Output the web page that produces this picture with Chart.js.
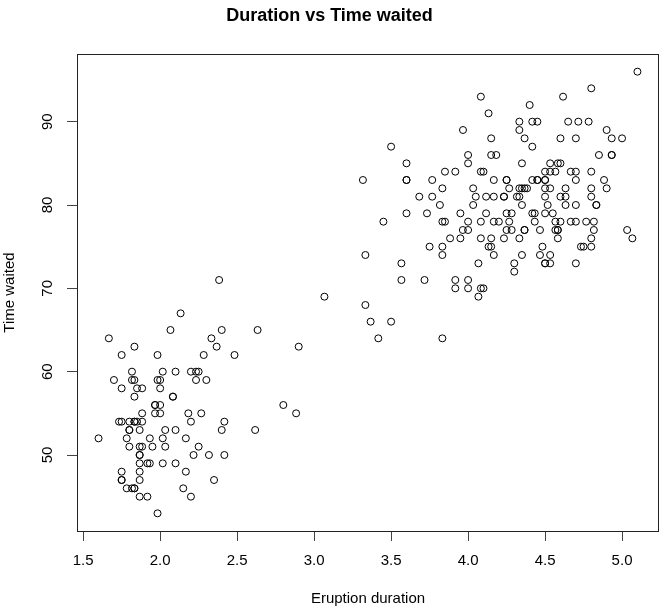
<!DOCTYPE html>
<html>
<head>
<meta charset="utf-8">
<script src="https://cdn.jsdelivr.net/npm/chart.js@4.4.0/dist/chart.umd.min.js"></script>
<style>
  html, body { margin: 0; padding: 0; background: #fff; }
  #wrap { width: 667px; height: 615px; }
</style>
</head>
<body>
<div id="wrap"><canvas id="chartCanvas" width="667" height="615"></canvas></div>
<script>
// Old Faithful: eruption duration (min) and waiting time (min)
const eruptions = [
  3.600, 1.800, 3.333, 2.283, 4.533, 2.883, 4.700, 3.600, 1.950, 4.350,
  1.833, 3.917, 4.200, 1.750, 4.700, 2.167, 1.750, 4.800, 1.600, 4.250,
  1.800, 1.750, 3.450, 3.067, 4.533, 3.600, 1.967, 4.083, 3.850, 4.433,
  4.300, 4.467, 3.367, 4.033, 3.833, 2.017, 1.867, 4.833, 1.833, 4.783,
  4.350, 1.883, 4.567, 1.750, 4.533, 3.317, 3.833, 2.100, 4.633, 2.000,
  4.800, 4.716, 1.833, 4.833, 1.733, 4.883, 3.717, 1.667, 4.567, 4.317,
  2.233, 4.500, 1.750, 4.800, 1.817, 4.400, 4.167, 4.700, 2.067, 4.700,
  4.033, 1.967, 4.500, 4.000, 1.983, 5.067, 2.017, 4.567, 3.883, 3.600,
  4.133, 4.333, 4.100, 2.633, 4.067, 4.933, 3.950, 4.517, 2.167, 4.000,
  2.200, 4.333, 1.867, 4.817, 1.833, 4.300, 4.667, 3.750, 1.867, 4.900,
  2.483, 4.367, 2.100, 4.500, 4.050, 1.867, 4.700, 1.783, 4.850, 3.683,
  4.733, 2.300, 4.900, 4.417, 1.700, 4.633, 2.317, 4.600, 1.817, 4.417,
  2.617, 4.067, 4.250, 1.967, 4.600, 3.767, 1.917, 4.500, 2.267, 4.650,
  1.867, 4.167, 2.800, 4.333, 1.833, 4.383, 1.883, 4.933, 2.033, 3.733,
  4.233, 2.233, 4.533, 4.817, 4.333, 1.983, 4.633, 2.017, 5.100, 1.800,
  5.033, 4.000, 2.400, 4.600, 3.567, 4.000, 4.500, 4.083, 1.800, 3.967,
  2.200, 4.150, 2.000, 3.833, 3.500, 4.583, 2.367, 5.000, 1.933, 4.617,
  1.917, 2.083, 4.583, 3.333, 4.167, 4.333, 4.500, 2.417, 4.000, 4.167,
  1.883, 4.583, 4.250, 3.767, 2.033, 4.433, 4.083, 1.833, 4.417, 2.183,
  4.800, 1.833, 4.800, 4.100, 3.966, 4.233, 3.500, 4.366, 2.250, 4.667,
  2.100, 4.350, 4.133, 1.867, 4.600, 1.783, 4.367, 3.850, 1.933, 4.500,
  2.383, 4.700, 1.867, 3.833, 3.417, 4.233, 2.400, 4.800, 2.000, 4.150,
  1.867, 4.267, 1.750, 4.483, 4.000, 4.117, 4.083, 4.267, 3.917, 4.550,
  4.083, 2.417, 4.183, 2.217, 4.450, 1.883, 1.850, 4.283, 3.950, 2.333,
  4.150, 2.350, 4.933, 2.900, 4.583, 3.833, 2.083, 4.367, 2.133, 4.350,
  2.200, 4.450, 3.567, 4.500, 4.150, 3.817, 3.917, 4.450, 2.000, 4.283,
  4.767, 4.533, 1.850, 4.250, 1.983, 2.250, 4.750, 4.117, 2.150, 4.417,
  1.817, 4.467
];
const waiting = [
  79, 54, 74, 62, 85, 55, 88, 85, 51, 85,
  54, 84, 78, 47, 83, 52, 62, 84, 52, 79,
  51, 47, 78, 69, 74, 83, 55, 76, 78, 79,
  73, 77, 66, 80, 74, 52, 48, 80, 59, 90,
  80, 58, 84, 58, 73, 83, 64, 53, 82, 59,
  75, 90, 54, 80, 54, 83, 71, 64, 77, 81,
  59, 84, 48, 82, 60, 92, 78, 78, 65, 73,
  82, 56, 79, 71, 62, 76, 60, 78, 76, 83,
  75, 82, 70, 65, 73, 88, 76, 80, 48, 86,
  60, 90, 50, 78, 63, 72, 84, 75, 51, 82,
  62, 88, 49, 83, 81, 47, 84, 52, 86, 81,
  75, 59, 89, 79, 59, 81, 50, 85, 59, 87,
  53, 69, 77, 56, 88, 81, 45, 82, 55, 90,
  45, 83, 56, 89, 46, 82, 51, 86, 53, 79,
  81, 60, 82, 77, 76, 59, 80, 49, 96, 53,
  77, 77, 65, 81, 71, 70, 81, 93, 53, 89,
  45, 86, 58, 78, 66, 76, 63, 88, 52, 93,
  49, 57, 77, 68, 81, 81, 73, 50, 85, 74,
  55, 77, 83, 83, 51, 78, 84, 46, 83, 55,
  81, 57, 76, 84, 77, 81, 87, 77, 51, 78,
  60, 82, 91, 53, 78, 46, 77, 84, 49, 83,
  71, 80, 49, 75, 64, 76, 53, 94, 55, 76,
  50, 82, 54, 75, 78, 79, 78, 78, 70, 79,
  70, 54, 86, 50, 90, 54, 54, 77, 79, 64,
  75, 47, 86, 63, 85, 82, 57, 82, 67, 74,
  54, 83, 73, 73, 88, 80, 71, 83, 56, 79,
  78, 84, 58, 83, 43, 60, 75, 81, 46, 90,
  46, 74
];

// tick positions
const xTicks = [1.5, 2.0, 2.5, 3.0, 3.5, 4.0, 4.5, 5.0];
const yTicks = [50, 60, 70, 80, 90];

const FONT = 'Liberation Sans, Arial, sans-serif';

// khung hình chữ nhật + nhãn trục y xoay dọc như R
const rFrame = {
  id: 'rFrame',
  afterDraw(chart) {
    const { ctx, chartArea: a, scales } = chart;
    ctx.save();
    ctx.strokeStyle = '#222';
    ctx.lineWidth = 1;
    ctx.strokeRect(Math.round(a.left) + 0.5, Math.round(a.top) + 0.5,
      Math.round(a.right - a.left) - 1, Math.round(a.bottom - a.top));
    // y tick labels, rotated
    ctx.fillStyle = '#000';
    ctx.font = '15px ' + FONT;
    ctx.textAlign = 'center';
    ctx.textBaseline = 'middle';
    scales.y.ticks.forEach(t => {
      const py = scales.y.getPixelForValue(t.value);
      ctx.save();
      ctx.translate(48, py);
      ctx.rotate(-Math.PI / 2);
      ctx.fillText(String(t.value), 0, 0);
      ctx.restore();
    });
    ctx.restore();
  }
};

const points = eruptions.map((e, i) => ({ x: e, y: waiting[i] }));

new Chart(document.getElementById('chartCanvas').getContext('2d'), {
  type: 'scatter',
  data: {
    datasets: [{
      data: points,
      pointStyle: 'circle',
      pointRadius: 3.5,
      pointHoverRadius: 3.5,
      pointBorderWidth: 1,
      borderColor: '#000',
      backgroundColor: 'rgba(0,0,0,0)'
    }]
  },
  options: {
    responsive: false,
    animation: false,
    layout: { padding: { left: 0, right: 8, top: 0, bottom: 0 } },
    plugins: {
      legend: { display: false },
      tooltip: { enabled: false },
      title: {
        display: true,
        text: 'Duration vs Time waited',
        color: '#000',
        font: { family: FONT, size: 18, weight: 'bold' },
        padding: { top: 5, bottom: 27.4 }
      }
    },
    scales: {
      x: {
        type: 'linear',
        min: 1.46,
        max: 5.24,
        afterBuildTicks: s => { s.ticks = xTicks.map(v => ({ value: v })); },
        afterFit: s => { s.height = 84; },
        border: { display: false },
        grid: { display: true, drawOnChartArea: false, drawTicks: true, tickLength: 10, color: '#444' },
        ticks: {
          color: '#000',
          padding: 11,
          maxRotation: 0,
          font: { family: FONT, size: 15 },
          callback: v => Number(v).toFixed(1)
        },
        title: {
          display: true,
          text: 'Eruption duration',
          color: '#000',
          font: { family: FONT, size: 15 },
          padding: { top: 0, bottom: 7.5 }
        }
      },
      y: {
        type: 'linear',
        min: 40.88,
        max: 98.12,
        afterBuildTicks: s => { s.ticks = yTicks.map(v => ({ value: v })); },
        afterFit: s => { s.width = 77; },
        border: { display: false },
        grid: { display: true, drawOnChartArea: false, drawTicks: true, tickLength: 10, color: '#444' },
        ticks: { display: false },
        title: {
          display: true,
          text: 'Time waited',
          color: '#000',
          font: { family: FONT, size: 15 },
          padding: { top: 1, bottom: 0 }
        }
      }
    }
  },
  plugins: [rFrame]
});
</script>
</body>
</html>
